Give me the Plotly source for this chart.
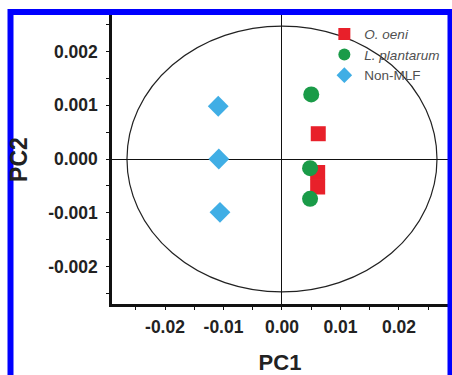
import plotly.graph_objects as go

# ---- data ----
oeni_x = [0.0062, 0.0061, 0.0061]
oeni_y = [0.00047, -0.00025, -0.00052]
plant_x = [0.0050, 0.0048, 0.0048]
plant_y = [0.00120, -0.00017, -0.00074]
nonmlf_x = [-0.0109, -0.0108, -0.0106]
nonmlf_y = [0.00098, 0.00000, -0.00099]

x_tick_vals = [-0.02, -0.01, 0.0, 0.01, 0.02]
x_tick_text = ["-0.02", "-0.01", "0.00", "0.01", "0.02"]
y_tick_vals = [0.002, 0.001, 0.0, -0.001, -0.002]
y_tick_text = ["0.002", "0.001", "0.000", "-0.001", "-0.002"]

ellipse_rx = 0.0265
ellipse_ry = 0.00247

x_range = [-0.02906, 0.02838]
y_range = [-0.002694, 0.002676]

FONT = "Liberation Sans, Arial, sans-serif"

W, H = 452, 375
ML, MR, MT, MB = 112, 4, 15, 66
PW = W - ML - MR
PH = H - MT - MB

fig = go.Figure()
fig.add_trace(go.Scatter(x=oeni_x, y=oeni_y, mode="markers", name="<i>O. oeni</i>",
                         marker=dict(symbol="square", size=15, color="#e8202a")))
fig.add_trace(go.Scatter(x=plant_x, y=plant_y, mode="markers", name="<i>L. plantarum</i>",
                         marker=dict(symbol="circle", size=16, color="#1a9b48")))
fig.add_trace(go.Scatter(x=nonmlf_x, y=nonmlf_y, mode="markers", name="Non-MLF",
                         marker=dict(symbol="diamond", size=16, color="#40aee5")))

tickfont = dict(family=FONT, size=17.5, color="#222222", weight="bold")

fig.update_layout(
    width=W, height=H,
    margin=dict(l=ML, r=MR, t=MT, b=MB),
    paper_bgcolor="white", plot_bgcolor="white",
    showlegend=True,
    legend=dict(x=0.632, y=0.987, xanchor="left", yanchor="top",
                bgcolor="rgba(0,0,0,0)", itemsizing="constant",
                font=dict(family=FONT, size=13.5, color="#505050")),
    xaxis=dict(range=x_range, showgrid=False, zeroline=True, zerolinecolor="#111111",
               zerolinewidth=1.3, showline=True, linecolor="#111111", linewidth=2.5,
               tickmode="array", tickvals=x_tick_vals, ticktext=x_tick_text,
               ticks="outside", ticklen=3, tickwidth=1.3, tickcolor="#111111",
               ticklabelstandoff=2,
               minor=dict(dtick=0.005, tick0=0, ticks="outside", ticklen=3, tickwidth=1.3,
                          tickcolor="#111111", showgrid=False),
               tickfont=tickfont,
               title=dict(text="PC1", standoff=19,
                          font=dict(family=FONT, size=22, color="#222222", weight="bold"))),
    yaxis=dict(range=y_range, showgrid=False, zeroline=True, zerolinecolor="#111111",
               zerolinewidth=1.3, showline=True, linecolor="#111111", linewidth=2.5,
               tickmode="array", tickvals=y_tick_vals, ticktext=y_tick_text,
               ticks="outside", ticklen=3, tickwidth=1.3, tickcolor="#111111",
               ticklabelstandoff=5,
               minor=dict(dtick=0.0005, tick0=0, ticks="outside", ticklen=3, tickwidth=1.3,
                          tickcolor="#111111", showgrid=False),
               tickfont=tickfont,
               title=dict(text="PC2", standoff=15,
                          font=dict(family=FONT, size=23, color="#222222", weight="bold"))),
    xaxis2=dict(range=x_range, overlaying="x", anchor="y", side="bottom", showgrid=False,
                zeroline=False, showline=False, showticklabels=False, dtick=0.005, tick0=0,
                ticks="inside", ticklen=3, tickwidth=1.3, tickcolor="#111111"),
    yaxis2=dict(range=y_range, overlaying="y", anchor="x", side="left", showgrid=False,
                zeroline=False, showline=False, showticklabels=False, dtick=0.0005, tick0=0,
                ticks="inside", ticklen=3, tickwidth=1.3, tickcolor="#111111"),
)

# ellipse
fig.add_shape(type="circle", xref="x", yref="y",
              x0=-ellipse_rx, x1=ellipse_rx, y0=-ellipse_ry, y1=ellipse_ry,
              line=dict(color="#222222", width=1.2), layer="below")

# blue frame (pixel positions converted to paper coords)
fx0, fx1, fy_top, fy_bot = 10.5, 450.5, 12, 390
fig.add_shape(type="rect", xref="paper", yref="paper",
              x0=(fx0 - ML) / PW, x1=(fx1 - ML) / PW,
              y0=(MT + PH - fy_bot) / PH, y1=(MT + PH - fy_top) / PH,
              line=dict(color="#0000ff", width=6), fillcolor="rgba(0,0,0,0)", layer="above")

fig.write_html("out.html", config={"displayModeBar": False},
               post_script="document.body.style.margin='0';document.body.style.overflow='hidden';")
